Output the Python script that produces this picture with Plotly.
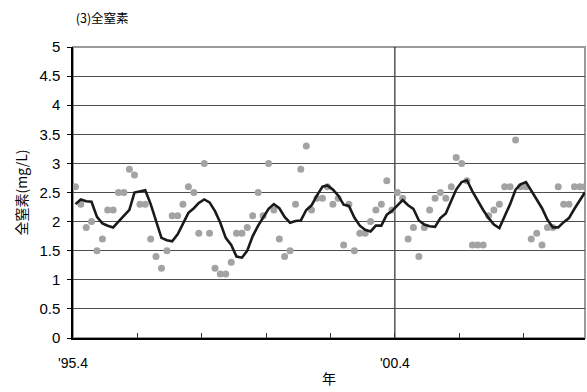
import pandas as pd
import plotly.graph_objects as go

# Monthly sampling dates (mid-month), April 1995 - March 2003
sample_dates = pd.date_range("1995-04-01", periods=96, freq="MS") + pd.Timedelta(days=14)

# Measured total nitrogen (mg/L), grey dots
tn_values = [
    2.6, 2.3, 1.9, 2.0, 1.5, 1.7, 2.2, 2.2, 2.5, 2.5, 2.9, 2.8,
    2.3, 2.3, 1.7, 1.4, 1.2, 1.5, 2.1, 2.1, 2.3, 2.6, 2.5, 1.8,
    3.0, 1.8, 1.2, 1.1, 1.1, 1.3, 1.8, 1.8, 1.9, 2.1, 2.5, 2.1,
    3.0, 2.2, 1.7, 1.4, 1.5, 2.3, 2.9, 3.3, 2.2, 2.4, 2.4, 2.6,
    2.3, 2.4, 1.6, 2.3, 1.5, 1.8, 1.8, 2.0, 2.2, 2.3, 2.7, 2.2,
    2.5, 2.4, 1.7, 1.9, 1.4, 1.9, 2.2, 2.4, 2.5, 2.4, 2.6, 3.1,
    3.0, 2.7, 1.6, 1.6, 1.6, 2.1, 2.2, 2.3, 2.6, 2.6, 3.4, 2.6,
    2.6, 1.7, 1.8, 1.6, 1.9, 1.9, 2.6, 2.3, 2.3, 2.6, 2.6, 2.6,
]

# Smoothed trend (black line)
trend_values = [
    2.30, 2.38, 2.35, 2.34, 2.08, 1.97, 1.93, 1.90, 2.00, 2.10, 2.20, 2.50,
    2.52, 2.54, 2.30, 2.00, 1.72, 1.68, 1.66, 1.78, 1.97, 2.15, 2.23, 2.32,
    2.38, 2.33, 2.18, 1.98, 1.72, 1.60, 1.40, 1.38, 1.50, 1.75, 1.93, 2.08,
    2.22, 2.30, 2.23, 2.08, 1.98, 2.01, 2.02, 2.20, 2.28, 2.45, 2.60, 2.62,
    2.55, 2.45, 2.29, 2.27, 2.07, 1.93, 1.86, 1.83, 1.93, 1.93, 2.12, 2.18,
    2.27, 2.37, 2.28, 2.22, 2.02, 1.95, 1.92, 1.91, 2.06, 2.14, 2.36, 2.55,
    2.68, 2.71, 2.52, 2.36, 2.20, 2.06, 1.95, 1.89, 2.08, 2.30, 2.55, 2.64,
    2.68, 2.52, 2.38, 2.23, 2.03, 1.90, 1.90, 1.99, 2.06, 2.22, 2.36, 2.50,
]

x_tick_dates = ["1995-04-01", "1996-04-01", "1997-04-01", "1998-04-01", "1999-04-01",
                "2000-04-01", "2001-04-01", "2002-04-01", "2003-04-01"]
x_tick_text = ["'95.4", "", "", "", "", "'00.4", "", "", ""]
y_tick_vals = [0, 0.5, 1, 1.5, 2, 2.5, 3, 3.5, 4, 4.5, 5]
y_tick_text = ["0", "0.5", "1", "1.5", "2", "2.5", "3", "3.5", "4", "4.5", "5"]
x_range = ["1995-04-01", "2003-03-16"]
ref_date = "2000-04-01"

font_fam = "Liberation Sans, Noto Sans CJK JP, sans-serif"
jp_font = "Noto Sans CJK JP, sans-serif"

fig = go.Figure()
fig.add_trace(go.Scatter(
    x=sample_dates, y=tn_values, mode="markers",
    marker=dict(color="#a3a3a3", size=7, line=dict(width=0)),
    showlegend=False,
))
fig.add_trace(go.Scatter(
    x=sample_dates, y=trend_values, mode="lines",
    line=dict(color="#1a1a1a", width=2.6),
    showlegend=False,
))

# frame
fig.add_shape(type="rect", xref="paper", yref="paper", x0=0, x1=1, y0=0, y1=1,
              line=dict(color="#9a9a9a", width=2), layer="below")
# vertical reference grid line at '00.4
fig.add_shape(type="line", xref="x", yref="paper", x0=ref_date, x1=ref_date, y0=0, y1=1,
              line=dict(color="#000000", width=1), layer="below")

fig.update_layout(
    width=587, height=392,
    margin=dict(l=73, r=2, t=47, b=54),
    paper_bgcolor="white", plot_bgcolor="white",
    font=dict(family=font_fam, size=14, color="#000000"),
    title=dict(text="(3)全窒素", font=dict(family=jp_font, size=12.5, color="#000000"),
               xref="container", yref="container", x=0.129, y=0.953,
               xanchor="left", yanchor="middle"),
    xaxis=dict(
        type="date", range=x_range,
        tickvals=x_tick_dates, ticktext=x_tick_text,
        ticks="inside", ticklen=5, tickcolor="#333333", tickwidth=1,
        showgrid=False, zeroline=False,
        showline=True, linecolor="#000000", linewidth=1.5,
        ticklabelstandoff=11,
        tickfont=dict(size=14),
        title=dict(text="年", font=dict(family=jp_font, size=14), standoff=5),
    ),
    yaxis=dict(
        range=[0, 5], tickvals=y_tick_vals, ticktext=y_tick_text,
        ticks="outside", ticklen=4, tickcolor="#000000",
        showgrid=True, gridcolor="#4d4d4d", gridwidth=1,
        zeroline=False,
        showline=True, linecolor="#000000", linewidth=1.5,
        ticklabelstandoff=4,
        tickfont=dict(size=15),
        title=dict(text="全窒素(mg/L)", font=dict(family=jp_font, size=14), standoff=8),
    ),
)

fig.write_html("out.html")
